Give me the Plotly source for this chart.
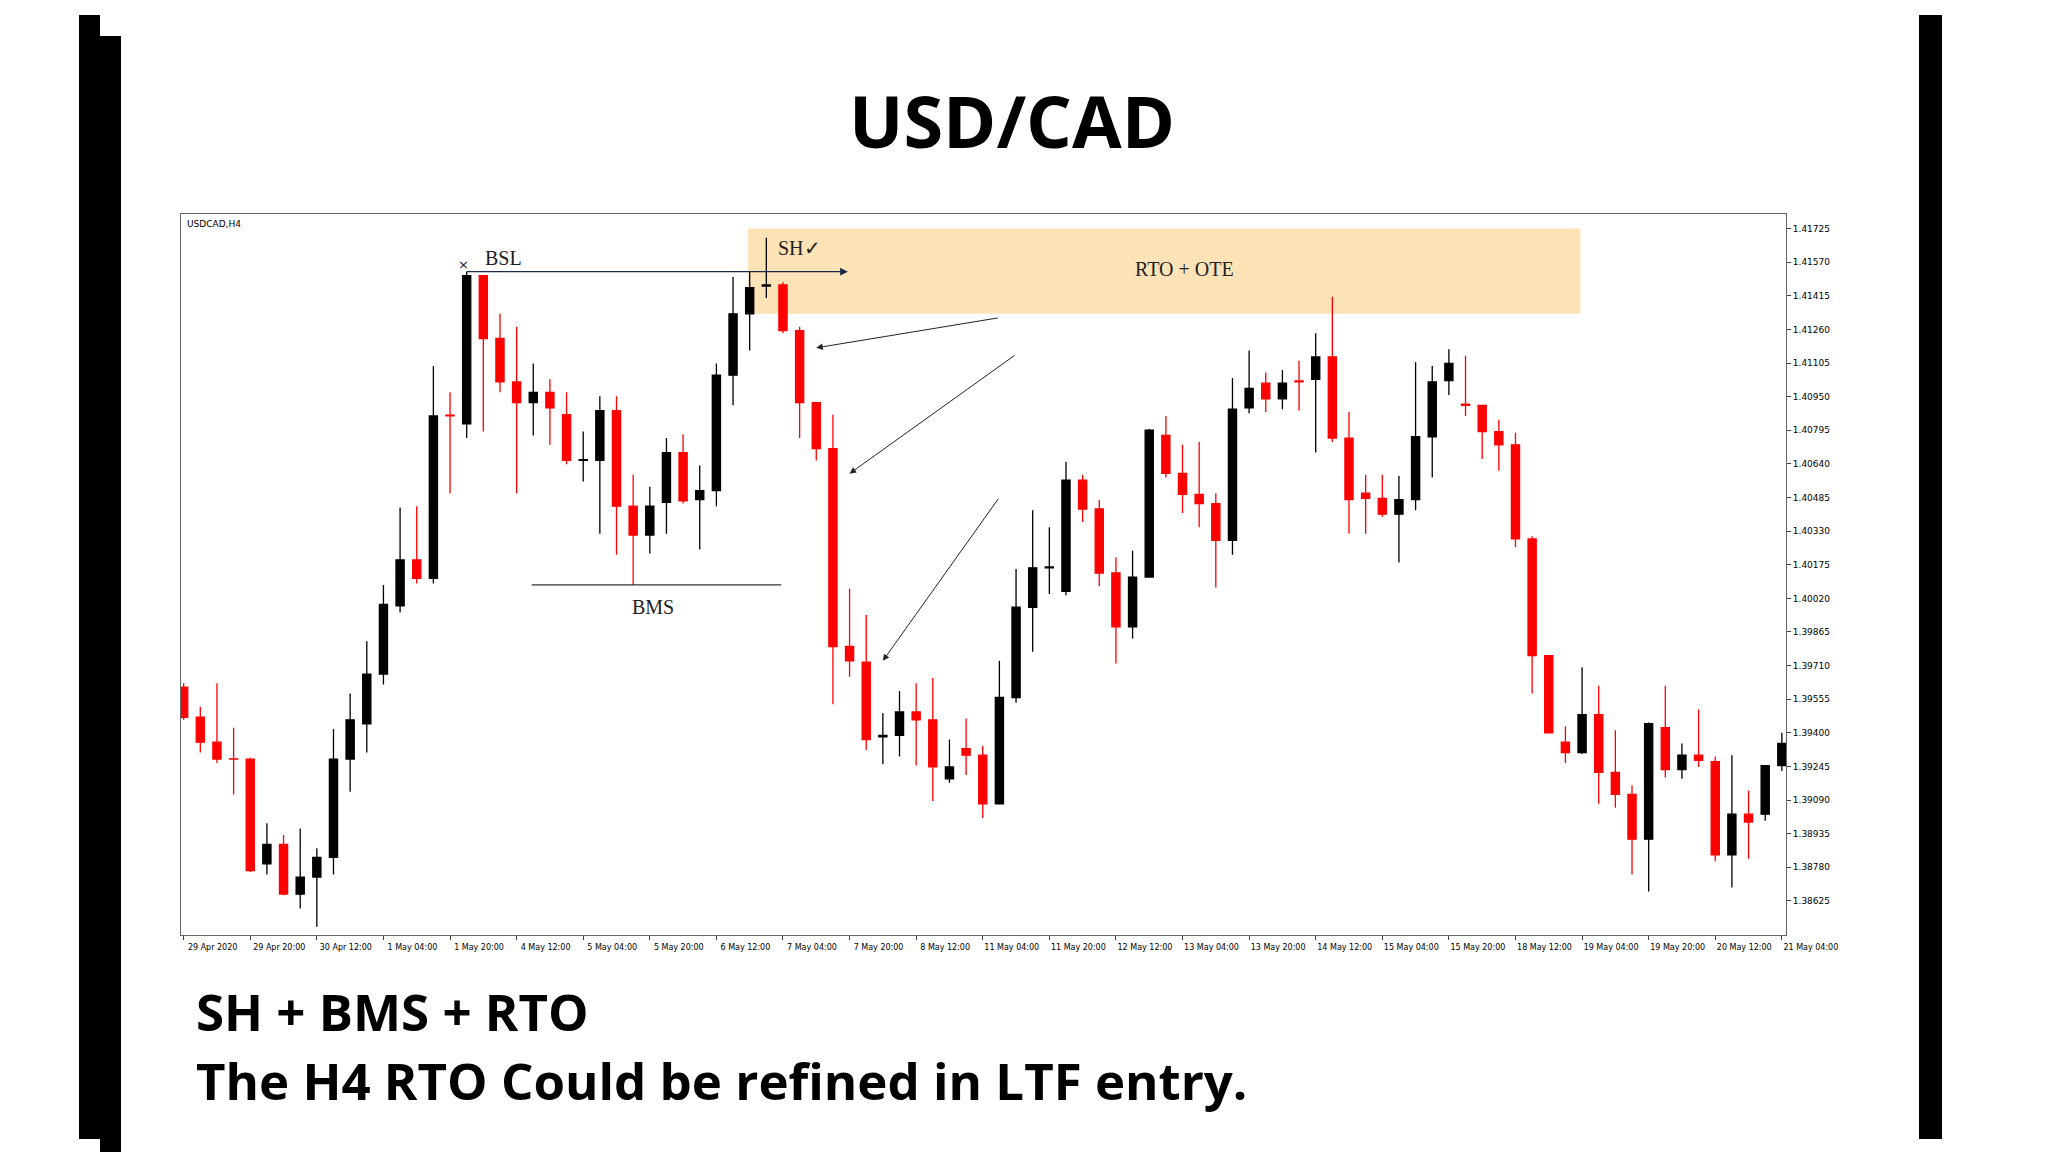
import plotly.graph_objects as go

idx = list(range(97))
opens = [1.39611,1.39472,1.39357,1.39280,1.39279,1.38796,1.38886,1.38657,1.38735,1.38826,
         1.39279,1.39442,1.39671,1.39985,1.40197,1.40112,1.40865,1.40825,1.41508,1.41218,
         1.41018,1.40922,1.40970,1.40867,1.40656,1.40656,1.40885,1.40445,1.40312,1.40463,
         1.40692,1.40475,1.40517,1.41049,1.41332,1.41460,1.41465,1.41254,1.40922,1.40710,
         1.39798,1.39726,1.39381,1.39388,1.39496,1.39460,1.39188,1.39327,1.39297,1.39073,
         1.39563,1.39979,1.40161,1.40052,1.40565,1.40432,1.40137,1.39889,1.40118,1.40771,
         1.40596,1.40499,1.40457,1.40288,1.40898,1.41012,1.40940,1.41022,1.41030,1.41133,
         1.40759,1.40505,1.40481,1.40408,1.40475,1.40765,1.41024,1.40915,1.40910,1.40789,
         1.40728,1.40294,1.39756,1.39357,1.39309,1.39484,1.39218,1.39116,1.38910,1.39424,
         1.39231,1.39297,1.39267,1.38838,1.39025,1.39025,1.39249]
highs = [1.39629,1.39520,1.39629,1.39424,1.39285,1.38983,1.38929,1.38959,1.38868,1.39418,
         1.39581,1.39822,1.40082,1.40439,1.40445,1.41091,1.40970,1.41526,1.41508,1.41332,
         1.41272,1.41103,1.41030,1.40970,1.40789,1.40952,1.40952,1.40590,1.40535,1.40759,
         1.40777,1.40632,1.41103,1.41502,1.41526,1.41683,1.41477,1.41272,1.40922,1.40867,
         1.40064,1.39943,1.39490,1.39593,1.39629,1.39653,1.39369,1.39466,1.39339,1.39732,
         1.40155,1.40426,1.40348,1.40650,1.40590,1.40475,1.40209,1.40239,1.40801,1.40861,
         1.40728,1.40741,1.40505,1.41036,1.41163,1.41061,1.41073,1.41115,1.41242,1.41411,
         1.40879,1.40590,1.40590,1.40584,1.41109,1.41091,1.41169,1.41139,1.40910,1.40843,
         1.40783,1.40306,1.39756,1.39430,1.39702,1.39617,1.39412,1.39158,1.39448,1.39617,
         1.39351,1.39508,1.39291,1.39297,1.39134,1.39249,1.39400]
lows = [1.39460,1.39309,1.39261,1.39116,1.38759,1.38747,1.38651,1.38590,1.38506,1.38747,
        1.39128,1.39309,1.39623,1.39955,1.40088,1.40088,1.40505,1.40759,1.40789,1.40970,
        1.40505,1.40771,1.40728,1.40638,1.40559,1.40318,1.40221,1.40082,1.40227,1.40318,
        1.40457,1.40245,1.40445,1.40910,1.41163,1.41405,1.41242,1.40759,1.40656,1.39532,
        1.39659,1.39321,1.39255,1.39291,1.39249,1.39086,1.39170,1.39206,1.39007,1.39073,
        1.39539,1.39774,1.40040,1.40034,1.40372,1.40076,1.39720,1.39835,1.40118,1.40577,
        1.40414,1.40348,1.40070,1.40221,1.40873,1.40879,1.40892,1.40885,1.40692,1.40741,
        1.40318,1.40318,1.40396,1.40185,1.40426,1.40577,1.40958,1.40861,1.40662,1.40608,
        1.40257,1.39581,1.39400,1.39261,1.39303,1.39073,1.39055,1.38747,1.38669,1.39194,
        1.39188,1.39243,1.38808,1.38687,1.38820,1.38995,1.39224]
closes = [1.39472,1.39357,1.39279,1.39279,1.38765,1.38886,1.38657,1.38735,1.38826,1.39279,
          1.39460,1.39671,1.39992,1.40197,1.40112,1.40861,1.40861,1.41508,1.41218,1.41018,
          1.40922,1.40970,1.40898,1.40656,1.40660,1.40885,1.40445,1.40312,1.40445,1.40692,
          1.40469,1.40517,1.41049,1.41332,1.41453,1.41465,1.41254,1.40922,1.40710,1.39798,
          1.39732,1.39369,1.39388,1.39496,1.39460,1.39243,1.39243,1.39297,1.39073,1.39563,
          1.39979,1.40161,1.40165,1.40565,1.40432,1.40137,1.39889,1.40118,1.40795,1.40596,
          1.40499,1.40457,1.40288,1.40892,1.40988,1.40940,1.41012,1.41018,1.41133,1.40759,
          1.40475,1.40481,1.40408,1.40475,1.40765,1.41018,1.41103,1.40910,1.40789,1.40728,
          1.40294,1.39756,1.39400,1.39309,1.39484,1.39218,1.39116,1.38910,1.39442,1.39231,
          1.39297,1.39273,1.38838,1.39025,1.38989,1.39249,1.39351]

x_tick_idx = list(range(0, 97, 4))
x_tick_labels = ["29 Apr 2020","29 Apr 20:00","30 Apr 12:00","1 May 04:00","1 May 20:00",
                 "4 May 12:00","5 May 04:00","5 May 20:00","6 May 12:00","7 May 04:00",
                 "7 May 20:00","8 May 12:00","11 May 04:00","11 May 20:00","12 May 12:00",
                 "13 May 04:00","13 May 20:00","14 May 12:00","15 May 04:00","15 May 20:00",
                 "18 May 12:00","19 May 04:00","19 May 20:00","20 May 12:00","21 May 04:00"]
y_ticks = [1.41725,1.41570,1.41415,1.41260,1.41105,1.40950,1.40795,1.40640,1.40485,1.40330,
           1.40175,1.40020,1.39865,1.39710,1.39555,1.39400,1.39245,1.39090,1.38935,1.38780,1.38625]

fig = go.Figure(go.Candlestick(
    x=idx, open=opens, high=highs, low=lows, close=closes,
    increasing=dict(line=dict(color="black", width=1.3), fillcolor="black"),
    decreasing=dict(line=dict(color="#ff0000", width=1.3), fillcolor="#ff0000"),
    whiskerwidth=0, showlegend=False, hoverinfo="skip"))

W, H = 2048, 1152
L, R, T, B = 173, 1778, 206, 927
def px(x): return (x - L) / (R - L)
def py(y): return (B - y) / (B - T)

shapes = [
    dict(type="rect", xref="x", yref="y", x0=33.9, x1=83.9, y0=1.41332, y1=1.41725,
         fillcolor="rgba(253,226,178,0.95)", line=dict(width=0), layer="below"),
    dict(type="line", xref="x", yref="y", x0=20.9, x1=35.9, y0=1.40082, y1=1.40082,
         line=dict(color="#333", width=1.3)),
]
for x0, x1, y0, y1 in [(71, 92, 7, 1131), (92, 113, 28, 1152), (1911, 1934, 7, 1131)]:
    shapes.append(dict(type="rect", xref="paper", yref="paper", x0=px(x0), x1=px(x1),
                       y0=py(y1), y1=py(y0), fillcolor="black", line=dict(width=0)))

serif = "Liberation Serif"
ann = [
    dict(x=px(1004), y=py(112), xref="paper", yref="paper", text="<b>USD/CAD</b>", showarrow=False,
         yanchor="middle", font=dict(family="Open Sans", size=72, color="black")),
    dict(x=px(186), y=py(1003), xref="paper", yref="paper", text="<b>SH + BMS + RTO</b>", showarrow=False,
         xanchor="left", yanchor="middle", font=dict(family="Open Sans", size=51, color="black")),
    dict(x=px(186), y=py(1072), xref="paper", yref="paper", text="<b>The H4 RTO Could be refined in LTF entry.</b>",
         showarrow=False, xanchor="left", yanchor="middle", font=dict(family="Open Sans", size=51, color="black")),
    dict(x=px(177), y=py(216), xref="paper", yref="paper", text="USDCAD,H4", showarrow=False,
         xanchor="left", yanchor="middle", font=dict(family="DejaVu Sans", size=9, color="black")),
    dict(x=37, y=1.41634, text="SH✓", showarrow=False, font=dict(family=serif, size=20, color="#222")),
    dict(x=60.1, y=1.41538, text="RTO + OTE", showarrow=False, font=dict(family=serif, size=20, color="#222")),
    dict(x=19.2, y=1.41590, text="BSL", showarrow=False, font=dict(family=serif, size=20, color="#222")),
    dict(x=16.8, y=1.41560, text="×", showarrow=False, font=dict(family="DejaVu Sans", size=13, color="#222")),
    dict(x=28.2, y=1.39980, text="BMS", showarrow=False, font=dict(family=serif, size=20, color="#222")),
    dict(x=39.9, y=1.41526, ax=16.9, ay=1.41526, xref="x", yref="y", axref="x", ayref="y",
         text="", showarrow=True, arrowhead=2, arrowsize=1.2, arrowwidth=1.3, arrowcolor="#1a2a4a"),
]
for (ax_, ay_, x_, y_) in [(49, 1.41314, 38.0, 1.41175), (50, 1.41145, 40.0, 1.40595), (49, 1.40486, 42.0, 1.39732)]:
    ann.append(dict(x=x_, y=y_, ax=ax_, ay=ay_, xref="x", yref="y", axref="x", ayref="y",
                    text="", showarrow=True, arrowhead=2, arrowsize=1.3, arrowwidth=1, arrowcolor="#222"))

fig.update_layout(
    width=W, height=H, paper_bgcolor="white", plot_bgcolor="white",
    margin=dict(l=L, r=W - R, t=T, b=H - B),
    shapes=shapes, annotations=ann,
    xaxis=dict(range=[-0.16, 96.25], tickvals=x_tick_idx, ticktext=x_tick_labels,
               rangeslider=dict(visible=False), showgrid=False, zeroline=False,
               ticks="outside", ticklen=4, tickcolor="#444", showline=True, linecolor="#666", mirror=True,
               ticklabelshift=29,
               tickfont=dict(family="DejaVu Sans", size=8, color="black"), tickangle=0),
    yaxis=dict(range=[1.38468, 1.41792], side="right", tickvals=y_ticks,
               ticktext=[f"{v:.5f}" for v in y_ticks], showgrid=False, zeroline=False,
               ticks="outside", ticklen=4, tickcolor="#444", showline=True, linecolor="#666", mirror=True,
               tickfont=dict(family="DejaVu Sans", size=9, color="black")),
)
fig.write_html("out.html")
